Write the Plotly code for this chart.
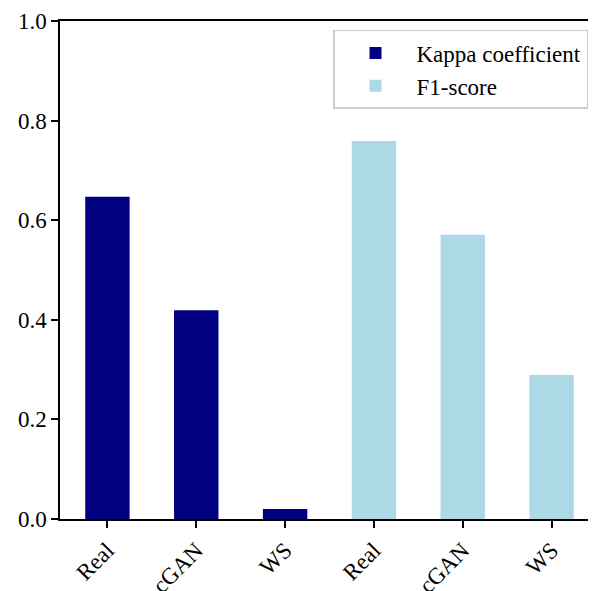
import plotly.graph_objects as go

categories = ["Real", "cGAN", "WS"]
kappa = [0.647, 0.419, 0.020]
f1 = [0.759, 0.571, 0.289]

n = len(categories)
x_kappa = list(range(n))
x_f1 = [i + n for i in range(n)]

font_family = "Liberation Serif, Times New Roman, serif"

fig = go.Figure()
fig.add_trace(go.Bar(x=x_kappa, y=kappa, name="Kappa coefficient",
                     marker=dict(color="#000080", line=dict(width=0)), width=0.5))
fig.add_trace(go.Bar(x=x_f1, y=f1, name="F1-score",
                     marker=dict(color="#add8e6", line=dict(width=0)), width=0.5))

fig.update_layout(
    width=591, height=583,
    margin=dict(l=52, r=0, t=13, b=72, autoexpand=False),
    plot_bgcolor="white", paper_bgcolor="white",
    font=dict(family=font_family, size=23, color="black"),
    showlegend=True,
    legend=dict(x=0.5065, y=0.982, xanchor="left", yanchor="top",
                bgcolor="rgba(255,255,255,0.8)", bordercolor="#cccccc", borderwidth=1.5,
                font=dict(size=23), traceorder="normal", itemwidth=72,
                tracegroupgap=4),
    barmode="overlay",
)
fig.update_xaxes(
    range=[-0.534, 2 * n - 1 + 0.534], automargin=False,
    tickmode="array", tickvals=x_kappa + x_f1, ticktext=categories + categories,
    tickangle=-45, ticks="outside", ticklen=7, tickwidth=1.5, tickcolor="black",
    showline=True, linecolor="black", linewidth=1.5, mirror=True,
    showgrid=False, zeroline=False, tickfont=dict(size=23),
    ticklabeloverflow="allow",
)
fig.update_yaxes(
    range=[0, 1.0], automargin=False, tickmode="array", tickvals=[0, 0.2, 0.4, 0.6, 0.8, 1.0],
    ticktext=["0.0", "0.2", "0.4", "0.6", "0.8", "1.0"],
    ticks="outside", ticklen=7, tickwidth=1.5, tickcolor="black",
    showline=True, linecolor="black", linewidth=1.5, mirror=True,
    showgrid=False, zeroline=False, tickfont=dict(size=23),
    ticklabeloverflow="allow",
)

fig.write_html("out.html")
